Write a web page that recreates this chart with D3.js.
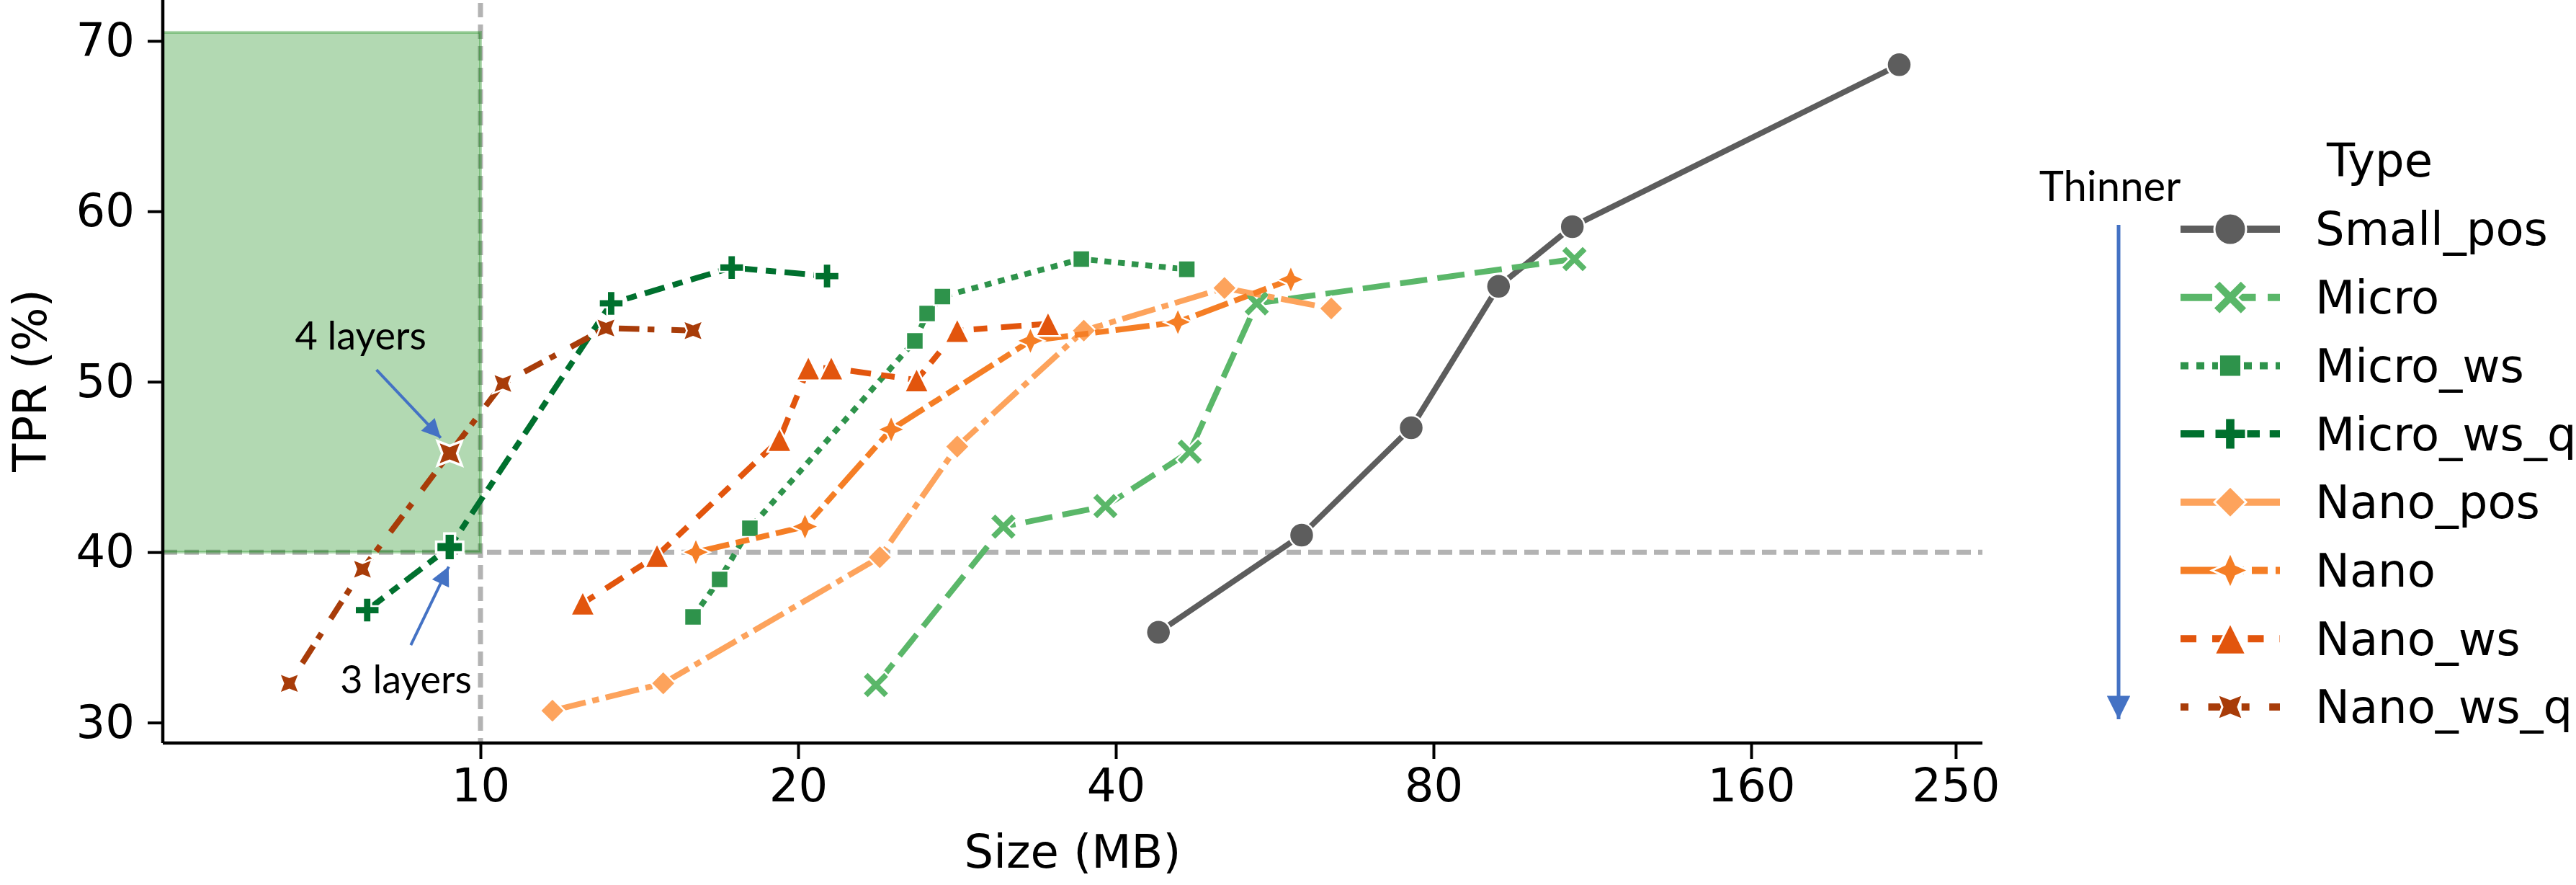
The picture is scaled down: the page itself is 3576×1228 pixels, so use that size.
<!DOCTYPE html>
<html>
<head>
<meta charset="utf-8">
<script src="https://cdn.jsdelivr.net/npm/d3@7"></script>
<style>
  body { margin: 0; background: #fff; }
  text { font-family: "DejaVu Sans", sans-serif; fill: #000; }
  .note { font-family: Lato, "Open Sans", sans-serif; }
</style>
</head>
<body>
<script>
// ---- data ----
var seriesNames = ["Small_pos", "Micro", "Micro_ws", "Micro_ws_q", "Nano_pos", "Nano", "Nano_ws", "Nano_ws_q"];

var smallPosSize = [43.9, 60.0, 76.2, 92.2, 108.3, 221];
var smallPosTpr  = [35.3, 41.0, 47.3, 55.6, 59.1, 68.6];
var microSize = [23.7, 31.3, 39.1, 47.0, 54.4, 108.8];
var microTpr  = [32.2, 41.5, 42.7, 45.9, 54.6, 57.2];
var microWsSize = [15.9, 16.85, 18.0, 25.8, 26.5, 27.4, 37.1, 46.7];
var microWsTpr  = [36.2, 38.4, 41.4, 52.4, 54.0, 55.0, 57.2, 56.6];
var microWsQSize = [7.81, 9.35, 13.3, 17.3, 21.3];
var microWsQTpr  = [36.6, 40.3, 54.6, 56.7, 56.2];
var nanoPosSize = [11.7, 14.9, 23.9, 28.3, 37.3, 50.7, 64.0];
var nanoPosTpr  = [30.7, 32.3, 39.7, 46.2, 53.0, 55.5, 54.3];
var nanoSize = [16.0, 20.3, 24.5, 33.2, 45.8, 58.6];
var nanoTpr  = [40.0, 41.5, 47.2, 52.4, 53.5, 56.0];
var nanoWsSize = [12.5, 14.7, 19.2, 20.45, 21.5, 25.9, 28.3, 34.5];
var nanoWsTpr  = [37.0, 39.8, 46.6, 50.8, 50.8, 50.1, 53.0, 53.4];
var nanoWsQSize = [6.59, 7.73, 9.35, 10.5, 13.15, 15.9];
var nanoWsQTpr  = [32.3, 39.0, 45.8, 49.9, 53.15, 53.0];

var xTicks = [10, 20, 40, 80, 160, 250];
var yTicks = [30, 40, 50, 60, 70];

// size / TPR thresholds and the target region
var sizeLimit = 10;
var tprLimit = 40;
var regionTop = 70.5;

// annotations: [label, text x, text y, arrow from x, y, arrow to x, y] (data units)
var notes = [
  ["4 layers", 7.7, 51.9, 7.97, 50.7, 9.17, 46.7],
  ["3 layers", 8.5, 31.7, 8.59, 34.55, 9.33, 39.15]
];
// points redrawn with a wide white halo: [series, index]
var highlighted = [["Nano_ws_q", 2], ["Micro_ws_q", 1]];

// ---- styles ----
var colors = {
  "Small_pos": "#5d5d5d", "Micro": "#5ab769", "Micro_ws": "#2e934b", "Micro_ws_q": "#00702e",
  "Nano_pos": "#fda35c", "Nano": "#f57e25", "Nano_ws": "#e2550d", "Nano_ws_q": "#a83c09"
};
var dashes = {
  "Small_pos": [], "Micro": [4, 1.5], "Micro_ws": [1, 1], "Micro_ws_q": [3, 1.25, 1.5, 1.25],
  "Nano_pos": [5, 1, 1, 1], "Nano": [5, 1, 2, 1, 2, 1], "Nano_ws": [2, 2, 3, 1.5], "Nano_ws_q": [1, 2.5, 3, 1.2]
};
var markers = {
  "Small_pos": "circle", "Micro": "x", "Micro_ws": "square", "Micro_ws_q": "plus",
  "Nano_pos": "diamond", "Nano": "star", "Nano_ws": "triangle", "Nano_ws_q": "starx"
};

var sizes = [smallPosSize, microSize, microWsSize, microWsQSize, nanoPosSize, nanoSize, nanoWsSize, nanoWsQSize];
var tprs = [smallPosTpr, microTpr, microWsTpr, microWsQTpr, nanoPosTpr, nanoTpr, nanoWsTpr, nanoWsQTpr];

var series = seriesNames.map(function(name, i) {
  return { name: name, points: sizes[i].map(function(s, j) { return { size: s, tpr: tprs[i][j] }; }) };
});

var width = 3576, height = 1228;
var lw = 8, dashUnit = 9.5;

var svg = d3.select("body").append("svg")
  .attr("width", width)
  .attr("height", height);

var x = d3.scaleLog().domain([5, 265]).range([226, 2752]);
var y = d3.scaleLinear().domain([28.8, 72.4]).range([1031, 0]);

// marker path, centred on 0,0
function markerPath(type, s) {
  var h = s / 2, p, i, a, r;
  if (type == "circle") {
    return "M" + h + ",0A" + h + "," + h + " 0 1,1 " + (-h) + ",0A" + h + "," + h + " 0 1,1 " + h + ",0Z";
  }
  if (type == "square") {
    var q = s / Math.SQRT2 / 2;
    return "M" + [-q, -q] + "L" + [q, -q] + "L" + [q, q] + "L" + [-q, q] + "Z";
  }
  if (type == "diamond") {
    return "M0," + (-h) + "L" + h + ",0L0," + h + "L" + (-h) + ",0Z";
  }
  if (type == "triangle") {
    return "M0," + (-h) + "L" + h + "," + h + "L" + (-h) + "," + h + "Z";
  }
  if (type == "plus" || type == "x") {
    var t = s / 6, L = h;
    if (type == "x") { L = h * 1.25; t = s * 0.15; }
    p = [[-t, -L], [t, -L], [t, -t], [L, -t], [L, t], [t, t], [t, L], [-t, L], [-t, t], [-L, t], [-L, -t], [-t, -t]];
    if (type == "x") {
      p = p.map(function(d) {
        return [(d[0] - d[1]) / Math.SQRT2, (d[0] + d[1]) / Math.SQRT2];
      });
    }
    return "M" + p.join("L") + "Z";
  }
  // 4 point stars
  var rot = type == "starx" ? Math.PI / 4 : 0;
  p = [];
  for (i = 0; i < 8; i++) {
    a = rot - Math.PI / 2 + i * Math.PI / 4;
    r = (i % 2 == 0) ? h * 1.15 : h * 0.5;
    p.push([r * Math.cos(a), r * Math.sin(a)]);
  }
  return "M" + p.join("L") + "Z";
}

function dashArray(name, unit) {
  return dashes[name].map(function(d) { return d * unit; }).join(",");
}

// ---- threshold lines ----
svg.append("line")
  .attr("x1", x(sizeLimit)).attr("x2", x(sizeLimit))
  .attr("y1", 4).attr("y2", y.range()[0])
  .style("stroke", "#b3b3b3").style("stroke-width", 7).style("stroke-dasharray", "20,10");

svg.append("line")
  .attr("x1", x.range()[0]).attr("x2", x.range()[1])
  .attr("y1", y(tprLimit)).attr("y2", y(tprLimit))
  .style("stroke", "#b3b3b3").style("stroke-width", 7).style("stroke-dasharray", "20,10");

// target region
svg.append("rect")
  .attr("x", x.range()[0])
  .attr("y", y(regionTop))
  .attr("width", x(sizeLimit) - x.range()[0])
  .attr("height", y(tprLimit) - y(regionTop))
  .attr("fill", "green")
  .attr("fill-opacity", 0.3)
  .style("stroke", "green")
  .style("stroke-opacity", 0.3)
  .style("stroke-width", 4);

// ---- axes ----
var xAxis = svg.append("g").attr("transform", "translate(0," + y.range()[0] + ")")
  .call(d3.axisBottom(x).tickValues(xTicks).tickFormat(d3.format("d")).tickSize(22).tickPadding(14));
var yAxis = svg.append("g").attr("transform", "translate(" + x.range()[0] + ",0)")
  .call(d3.axisLeft(y).tickValues(yTicks).tickSize(21).tickPadding(18));

[xAxis, yAxis].forEach(function(g) {
  g.select(".domain").style("stroke", "#000").style("stroke-width", 4.5);
  g.selectAll(".tick line").style("stroke", "#000").style("stroke-width", 4);
  g.selectAll(".tick text").style("font-size", "64px").style("font-family", "DejaVu Sans").attr("fill", "#000");
});
xAxis.select(".domain").attr("d", "M" + x.range()[0] + ",0H" + x.range()[1]);
yAxis.select(".domain").attr("d", "M0," + y.range()[1] + "V" + y.range()[0]);

svg.append("text")
  .attr("x", (x.range()[0] + x.range()[1]) / 2)
  .attr("y", 1204)
  .attr("text-anchor", "middle")
  .style("font-size", "64px")
  .text("Size (MB)");

svg.append("text")
  .attr("transform", "translate(64,528) rotate(-90)")
  .attr("text-anchor", "middle")
  .style("font-size", "64px")
  .text("TPR (%)");

// ---- series ----
var line = d3.line()
  .x(function(d) { return x(d.size); })
  .y(function(d) { return y(d.tpr); });

series.forEach(function(s) {
  var g = svg.append("g");
  g.append("path")
    .attr("d", line(s.points))
    .attr("fill", "none")
    .style("stroke", colors[s.name])
    .style("stroke-width", lw)
    .style("stroke-dasharray", dashArray(s.name, dashUnit));

  g.selectAll("path.mark").data(s.points)
    .enter().append("path").classed("mark", true)
    .attr("d", markerPath(markers[s.name], 34))
    .attr("transform", function(d) { return "translate(" + x(d.size) + "," + y(d.tpr) + ")"; })
    .attr("fill", colors[s.name])
    .style("stroke", "#fff")
    .style("stroke-width", 2.5);
});

highlighted.forEach(function(h) {
  var s = series[seriesNames.indexOf(h[0])];
  var d = s.points[h[1]];
  svg.append("path")
    .attr("d", markerPath(markers[s.name], 34))
    .attr("transform", "translate(" + x(d.size) + "," + y(d.tpr) + ")")
    .attr("fill", colors[s.name])
    .style("stroke", "#fff")
    .style("stroke-width", 7)
    .style("paint-order", "stroke");
});

// ---- annotations ----
var defs = svg.append("defs");
defs.append("marker")
  .attr("id", "head")
  .attr("viewBox", "0 0 10 10")
  .attr("refX", 10).attr("refY", 5)
  .attr("markerWidth", 7.5).attr("markerHeight", 6.5)
  .attr("markerUnits", "strokeWidth")
  .attr("orient", "auto")
  .append("path").attr("d", "M0,0L10,5L0,10Z").attr("fill", "#4472c4");

notes.forEach(function(n) {
  svg.append("text").classed("note", true)
    .attr("x", x(n[1])).attr("y", y(n[2]))
    .attr("text-anchor", "middle")
    .style("font-size", "54px")
    .text(n[0]);
  svg.append("line")
    .attr("x1", x(n[3])).attr("y1", y(n[4]))
    .attr("x2", x(n[5])).attr("y2", y(n[6]))
    .style("stroke", "#4472c4")
    .style("stroke-width", 4)
    .attr("marker-end", "url(#head)");
});

// ---- legend ----
var legendX = 3214, legendY0 = 318, legendStep = 94.7;

svg.append("text")
  .attr("x", 3230).attr("y", 245)
  .style("font-size", "64px")
  .text("Type");

var legend = svg.selectAll("g.legend").data(seriesNames)
  .enter().append("g").classed("legend", true)
  .attr("transform", function(d, i) { return "translate(0," + (legendY0 + i * legendStep) + ")"; });

legend.append("line")
  .attr("x1", 3027).attr("x2", 3165)
  .style("stroke", function(d) { return colors[d]; })
  .style("stroke-width", 10)
  .style("stroke-dasharray", function(d) { return dashArray(d, 11); });

legend.append("path")
  .attr("d", function(d) { return markerPath(markers[d], 44); })
  .attr("transform", "translate(3096,0)")
  .attr("fill", function(d) { return colors[d]; })
  .style("stroke", "#fff")
  .style("stroke-width", 3);

legend.append("text")
  .attr("x", legendX)
  .attr("dy", "0.35em")
  .style("font-size", "64px")
  .text(function(d) { return d; });

// "Thinner" arrow
svg.append("text").classed("note", true)
  .attr("x", 2929).attr("y", 279)
  .attr("text-anchor", "middle")
  .style("font-size", "58px")
  .text("Thinner");

svg.append("line")
  .attr("x1", 2941).attr("x2", 2941)
  .attr("y1", 312).attr("y2", 998)
  .style("stroke", "#4472c4")
  .style("stroke-width", 5)
  .attr("marker-end", "url(#head)");
</script>
</body>
</html>
